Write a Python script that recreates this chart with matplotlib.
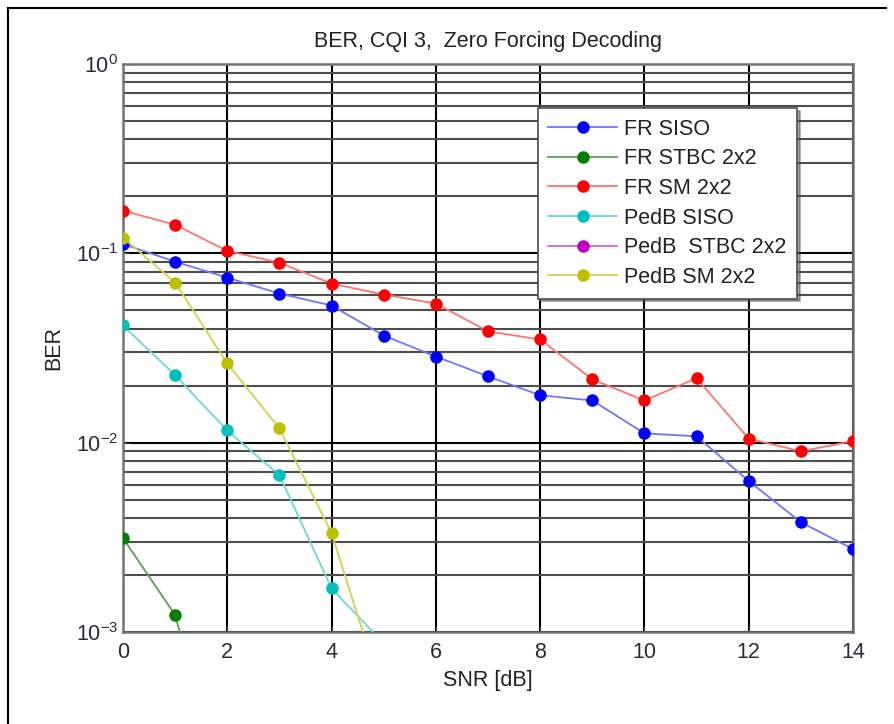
import numpy as np
import matplotlib
matplotlib.use('Agg')
import matplotlib.pyplot as plt
from matplotlib.lines import Line2D
from matplotlib.ticker import LogLocator, NullFormatter

plt.rcParams['font.family'] = ['Liberation Sans', 'DejaVu Sans']
plt.rcParams['mathtext.fontset'] = 'custom'
plt.rcParams['mathtext.rm'] = 'Liberation Sans'
plt.rcParams['mathtext.it'] = 'Liberation Sans'

# BER curves, CQI 3, zero forcing
snr = [0, 1, 2, 3, 4, 5, 6, 7, 8, 9, 10, 11, 12, 13, 14]
fr_siso = [0.112, 0.0904, 0.0744, 0.0613, 0.053, 0.0368, 0.0285, 0.0224,
           0.0178, 0.0167, 0.0112, 0.0108, 0.00627, 0.0038, 0.00274]
fr_sm = [0.168, 0.1416, 0.103, 0.0893, 0.0692, 0.0606, 0.0543, 0.0387,
         0.0351, 0.0216, 0.0167, 0.0219, 0.0105, 0.0090, 0.0102]
fr_stbc_snr = [0, 1, 2]
fr_stbc = [0.00313, 0.00123, 0.00012]
pedb_siso_snr = [0, 1, 2, 3, 4, 5]
pedb_siso = [0.0416, 0.0227, 0.0116, 0.00673, 0.0017, 0.00087]
pedb_stbc_snr = []
pedb_stbc = []
pedb_sm_snr = [0, 1, 2, 3, 4, 5]
pedb_sm = [0.121, 0.0701, 0.0262, 0.0119, 0.00333, 0.00045]

FS = 15.5

fig = plt.figure(figsize=(8.95, 7.24), dpi=100)
ax = fig.add_axes([0.1374, 0.1271, 0.8157, 0.7845])

series = [
    (snr, fr_siso, 'FR SISO', (0.45, 0.45, 1.0), (0, 0, 1)),
    (fr_stbc_snr, fr_stbc, 'FR STBC 2x2', (0.35, 0.62, 0.35), (0, 0.5, 0)),
    (snr, fr_sm, 'FR SM 2x2', (1.0, 0.45, 0.45), (1, 0, 0)),
    (pedb_siso_snr, pedb_siso, 'PedB SISO', (0.4, 0.85, 0.85), (0, 0.75, 0.75)),
    (pedb_stbc_snr, pedb_stbc, 'PedB  STBC 2x2', (0.85, 0.4, 0.85), (0.75, 0, 0.75)),
    (pedb_sm_snr, pedb_sm, 'PedB SM 2x2', (0.82, 0.82, 0.3), (0.75, 0.75, 0)),
]
for x, y, lab, lc, mc in series:
    ax.semilogy(x, y, '-o', color=lc, lw=1.3, markersize=8,
                markerfacecolor=mc, markeredgecolor=mc, label=lab, zorder=3)

ax.set_xlim(0, 14)
ax.set_ylim(1e-3, 1)
ax.set_xticks(range(0, 15, 2))
ax.yaxis.set_major_locator(LogLocator(base=10, numticks=10))
ax.yaxis.set_minor_locator(LogLocator(base=10, subs=np.arange(2, 10), numticks=10))
ax.yaxis.set_minor_formatter(NullFormatter())

ax.grid(True, which='major', color='black', lw=1.5, ls='-', zorder=1)
ax.grid(True, which='minor', axis='y', color='0.3', lw=1.5, ls='-', zorder=1)
ax.set_axisbelow(True)

ax.tick_params(which='both', direction='in', labelsize=FS, colors='0.3',
               labelcolor='#2a2a3a')
ax.tick_params(which='major', length=4)
ax.tick_params(which='minor', length=3)
ax.tick_params(axis='x', pad=7)
for s in ax.spines.values():
    s.set_color('0.45')
    s.set_linewidth(1.8)

ax.set_title('BER, CQI 3,  Zero Forcing Decoding', fontsize=FS, pad=12,
             color='#222222')
ax.set_xlabel('SNR [dB]', fontsize=FS, labelpad=5, color='#222222')
ax.set_ylabel('BER', fontsize=FS, labelpad=8, color='#222222')

leg = ax.legend(loc='upper left', bbox_to_anchor=(0.568, 0.9225),
                borderaxespad=0, fontsize=FS, fancybox=False, shadow=True,
                handlelength=3.2, handletextpad=0.3, labelspacing=0.4,
                borderpad=0.5, framealpha=1)
leg.get_frame().set_edgecolor('0.3')
leg.get_frame().set_linewidth(1.2)
for t in leg.get_texts():
    t.set_color('#222222')

# outer frame (left and top edges)
fig.add_artist(Line2D([0.009, 0.009], [0.0, 0.989], color='black', lw=1.5,
                      transform=fig.transFigure))
fig.add_artist(Line2D([0.009, 0.99], [0.989, 0.989], color='black', lw=1.5,
                      transform=fig.transFigure))

fig.savefig('out.png', dpi=100)
